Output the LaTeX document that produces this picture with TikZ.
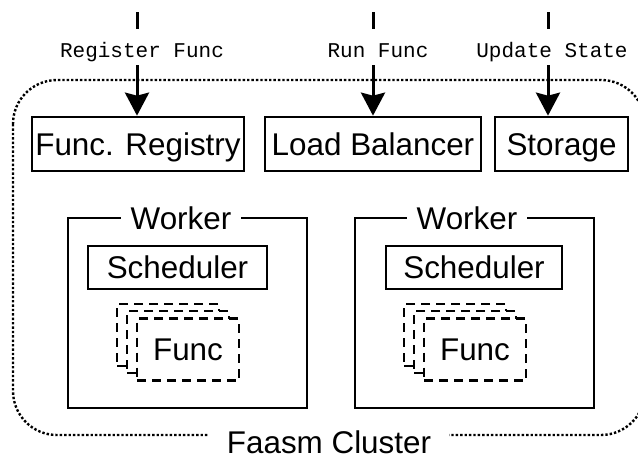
\documentclass[tikz,border=0pt]{standalone}
\usepackage{fontspec}
\setmainfont{Liberation Sans}
\setmonofont{Liberation Mono}
\usetikzlibrary{arrows.meta}

\begin{document}
\begin{tikzpicture}[x=0.5pt,y=-0.5pt,
  comp/.style={draw,line width=1.35pt,inner sep=0pt,text height=11.2pt,text depth=0pt,font=\fontsize{15.7}{18}\selectfont},
  fn/.style={comp,dash pattern=on 4.5pt off 3pt,line width=1.25pt,fill=white,minimum width=51pt,minimum height=31pt},
  lbl/.style={anchor=base,font=\ttfamily\fontsize{10.5}{12}\selectfont,fill=white,inner xsep=1pt,inner ysep=2pt,text height=12pt,text depth=2pt},
  tag/.style={fill=white,inner xsep=5pt,inner ysep=0pt,text height=11.2pt,text depth=0pt,font=\fontsize{15.7}{18}\selectfont},
  cluster/.style={line width=1.2pt,densely dotted,rounded corners=22pt},
  arr/.style={line width=1.5pt},
  tip/.style={-{Stealth[length=11.5pt,width=12pt,inset=1.5pt]}}]
\useasboundingbox (0,0) rectangle (638,457);

\draw [cluster] (13,80) rectangle (645,435);
\node [tag,inner xsep=9pt] (faasm) at (329,442) {Faasm Cluster};

\node [comp,minimum width=106pt,minimum height=27pt] (reg) at (138,144) {Func. Registry};
\node [comp,minimum width=108pt,minimum height=27pt] (lb) at (373,144) {Load Balancer};
\node [comp,minimum width=66.5pt,minimum height=27pt] (sto) at (561.5,144) {Storage};

\node [comp,minimum width=119.5pt,minimum height=95pt] (wl) at (187.5,313) {};
\node [tag] (wltag) at (181,218) {Worker};
\node [comp,minimum width=89.5pt,minimum height=21.5pt] (schl) at (177.5,267.5) {Scheduler};
\node [fn] (fl3) at (168,335) {};
\node [fn] (fl2) at (178,342) {};
\node [fn] (fl1) at (188,349.5) {Func};

\node [comp,minimum width=119.5pt,minimum height=95pt] (wr) at (474.5,313) {};
\node [tag] (wrtag) at (467,218) {Worker};
\node [comp,minimum width=88pt,minimum height=21.5pt] (schr) at (474,267.5) {Scheduler};
\node [fn] (fr3) at (455,335) {};
\node [fn] (fr2) at (465,342) {};
\node [fn] (fr1) at (475,349.5) {Func};

\coordinate (regtop) at (137,12);
\coordinate (runtop) at (373,12);
\coordinate (updtop) at (548,12);
\node [lbl] (reglbl) at (142,57) {Register Func};
\node [lbl] (runlbl) at (378,57) {Run Func};
\node [lbl] (updlbl) at (552,57) {Update State};

\draw [arr] (regtop) -- (regtop |- reglbl.north);
\draw [arr,tip] (regtop |- reglbl.south) -- (regtop |- reg.north);
\draw [arr] (runtop) -- (runtop |- runlbl.north);
\draw [arr,tip] (runtop |- runlbl.south) -- (runtop |- lb.north);
\draw [arr] (updtop) -- (updtop |- updlbl.north);
\draw [arr,tip] (updtop |- updlbl.south) -- (updtop |- sto.north);

\end{tikzpicture}
\end{document}
